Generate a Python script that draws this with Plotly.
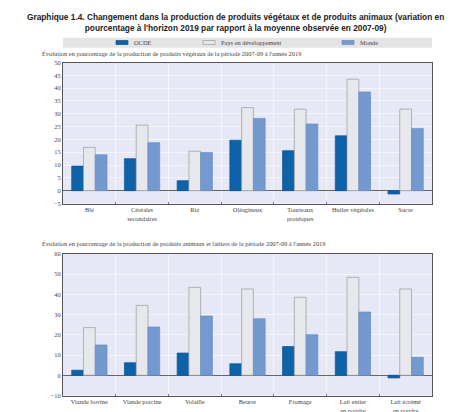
import plotly.graph_objects as go
from plotly.subplots import make_subplots

# ---- data ----
cat_veg = ["Blé", "Céréales<br>secondaires", "Riz", "Oléagineux",
           "Tourteaux<br>protéiques", "Huiles végétales", "Sucre"]
ocde_veg = [9.6, 12.5, 3.9, 19.7, 15.6, 21.4, -1.3]
ped_veg = [16.9, 25.6, 15.4, 32.4, 31.8, 43.5, 31.8]
monde_veg = [14.0, 18.7, 14.9, 28.2, 26.0, 38.5, 24.3]

cat_ani = ["Viande bovine", "Viande porcine", "Volaille", "Beurre", "Fromage",
           "Lait entier<br>en poudre", "Lait écrémé<br>en poudre"]
ocde_ani = [2.5, 6.2, 11.0, 5.7, 14.2, 11.7, -1.3]
ped_ani = [23.6, 34.6, 43.5, 42.7, 38.6, 48.5, 42.7]
monde_ani = [15.0, 23.9, 29.3, 28.0, 20.1, 31.3, 8.9]

series_names = ["OCDE", "Pays en développement", "Monde"]
ticks_top = list(range(-5, 51, 5))
ticks_bot = list(range(-10, 61, 10))

title = ("<b>Graphique 1.4. Changement dans la production de produits végétaux et de produits animaux (variation en<br>"
         "pourcentage à l'horizon 2019 par rapport à la moyenne observée en 2007-09)</b>")
sub_top = "Évolution en pourcentage de la production de produits végétaux de la période 2007-09 à l'année 2019"
sub_bot = "Évolution en pourcentage de la production de produits animaux et laitiers de la période 2007-09 à l'année 2019"

# ---- styles ----
fills = ["#0d62a8", "#e6e8ed", "#7499cf"]
lines = ["#0b5596", "#9a9a9a", "#6a8fc6"]
OFF = 8  # default page margin
W, H = 462 - OFF, 412 - OFF
SERIF = "Liberation Serif"
FS = 6.4

fig = make_subplots(rows=2, cols=1)

for row, (cats, vals) in enumerate([(cat_veg, [ocde_veg, ped_veg, monde_veg]),
                                   (cat_ani, [ocde_ani, ped_ani, monde_ani])], start=1):
    for i, (name, v) in enumerate(zip(series_names, vals)):
        fig.add_trace(go.Bar(x=cats, y=v, name=name, showlegend=False,
                             marker=dict(color=fills[i], line=dict(color=lines[i], width=0.7))),
                      row=row, col=1)

def px(x):
    return (x - OFF) / W

def py(y):
    return 1 - (y - OFF) / H

axis_common = dict(showline=True, linecolor="#555", linewidth=1, mirror=True,
                   tickfont=dict(family=SERIF, size=FS, color="#444"))
fig.update_xaxes(**axis_common, domain=[px(63), px(432)], tickson="boundaries",
                 ticks="inside", ticklen=2, tickcolor="#777", showgrid=True,
                 gridcolor="#f4f5fb", gridwidth=0.6, tickangle=0, automargin=False)
fig.update_yaxes(**axis_common, gridcolor="#f4f5fb", gridwidth=0.7, zeroline=True,
                 zerolinecolor="#666", zerolinewidth=1.2, ticks="", automargin=False)
fig.update_yaxes(range=[-5, 50], tickvals=ticks_top, domain=[py(203.5), py(62.5)], row=1, col=1)
fig.update_yaxes(range=[-10, 60], tickvals=ticks_bot, domain=[py(395.5), py(254)], row=2, col=1)

# legend band and entries
shapes = [dict(type="rect", xref="paper", yref="paper", x0=px(63), x1=px(432), y0=py(47.7), y1=py(37.7),
               fillcolor="#e4e4e4", line=dict(width=0), layer="below")]
annotations = []
leg_x = [116, 203, 342]
for i, name in enumerate(series_names):
    shapes.append(dict(type="rect", xref="paper", yref="paper", x0=px(leg_x[i]), x1=px(leg_x[i] + 12),
                       y0=py(44.5), y1=py(40.5), fillcolor=fills[i], line=dict(color=lines[i], width=0.7)))
    annotations.append(dict(text=name, x=px(leg_x[i] + 16), y=py(42.6), xref="paper", yref="paper",
                            showarrow=False, xanchor="left", yanchor="middle",
                            font=dict(family=SERIF, size=FS, color="#444")))

annotations += [
    dict(text=title, x=px(235), y=py(9.5), xref="paper", yref="paper", showarrow=False,
         xanchor="center", yanchor="top", align="center",
         font=dict(family="Liberation Sans", size=8.3, color="#222")),
    dict(text=sub_top, x=px(40), y=py(53.3), xref="paper", yref="paper", showarrow=False,
         xanchor="left", yanchor="middle", font=dict(family=SERIF, size=FS, color="#444")),
    dict(text=sub_bot, x=px(40), y=py(244), xref="paper", yref="paper", showarrow=False,
         xanchor="left", yanchor="middle", font=dict(family=SERIF, size=FS, color="#444")),
]

fig.update_layout(
    width=W, height=H,
    margin=dict(l=0, r=0, t=0, b=0),
    paper_bgcolor="white", plot_bgcolor="#e6e8f5",
    barmode="group", bargap=0.33, bargroupgap=0.0,
    showlegend=False,
    shapes=shapes,
    annotations=annotations,
)

fig.write_html("out.html")
